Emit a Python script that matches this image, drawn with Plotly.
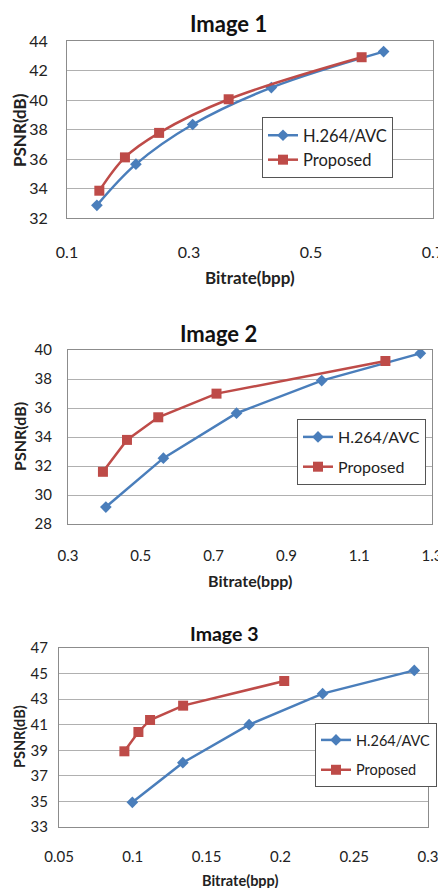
import plotly.graph_objects as go

FONT = "Lato"
BLUE = "#4A7EBB"
RED = "#BE4B48"

# ---- data ----
img1_h264_x = [0.149, 0.213, 0.306, 0.435, 0.619]
img1_h264_y = [32.86, 35.65, 38.34, 40.84, 43.28]
img1_prop_x = [0.153, 0.195, 0.251, 0.365, 0.583]
img1_prop_y = [33.85, 36.11, 37.77, 40.05, 42.90]

img2_h264_x = [0.404, 0.562, 0.763, 0.997, 1.268]
img2_h264_y = [29.17, 32.54, 35.64, 37.89, 39.77]
img2_prop_x = [0.396, 0.462, 0.548, 0.708, 1.172]
img2_prop_y = [31.60, 33.80, 35.36, 36.99, 39.24]

img3_h264_x = [0.0997, 0.1339, 0.1788, 0.2286, 0.2907]
img3_h264_y = [34.93, 38.03, 41.00, 43.43, 45.25]
img3_prop_x = [0.0943, 0.1038, 0.1117, 0.1341, 0.2026]
img3_prop_y = [38.92, 40.43, 41.37, 42.49, 44.42]

titles = ["Image 1", "Image 2", "Image 3"]
series_names = ["H.264/AVC", "Proposed"]
x_title = "Bitrate(bpp)"
y_title = "PSNR(dB)"

x_ranges = [[0.1, 0.7], [0.3, 1.3], [0.05, 0.3]]
x_dticks = [0.2, 0.2, 0.05]
y_ranges = [[32, 44], [28, 40], [33, 47]]
y_dticks = [2, 2, 2]

# page body has an 8px margin, so the figure is drawn 8px in from top/left
OFF = 8
W, H = 446 - OFF, 888 - OFF
# plot-area boxes in page pixels: (left, right, top, bottom)
boxes = [(67, 433, 41, 218), (68, 432, 350, 524), (59, 428, 648, 827)]
legend_pos = [(262, 117), (297, 419), (315, 723)]
legend_entry_w = [135, 80, 70]
legend_gap = [0, 6, 8]
title_pos = [(228, 23), (218, 333), (224, 633)]
xtitle_pos = [(250, 277), (250, 580), (240, 880)]
ytitle_pos = [(19, 130), (19, 437), (19, 737)]
tick_font = [16, 15, 15]
axis_title_font = [17, 16, 14.5]
legend_font = [16.5, 16, 14.5]
title_font = [22, 22, 19.5]
standoffs = [20, 18, 16]
y_standoffs = [15, 12, 7]


def px(x):
    return (x - OFF) / W


def py(y):
    return 1 - (y - OFF) / H


data = [
    (img1_h264_x, img1_h264_y, img1_prop_x, img1_prop_y, "spline"),
    (img2_h264_x, img2_h264_y, img2_prop_x, img2_prop_y, "linear"),
    (img3_h264_x, img3_h264_y, img3_prop_x, img3_prop_y, "linear"),
]

fig = go.Figure()
for i, (hx, hy, qx, qy, shape) in enumerate(data):
    n = "" if i == 0 else str(i + 1)
    leg = "legend" if i == 0 else f"legend{i+1}"
    fig.add_trace(go.Scatter(
        x=hx, y=hy, name=series_names[0], mode="lines+markers",
        line=dict(color=BLUE, width=2.5, shape=shape),
        marker=dict(symbol="diamond", size=9, color=BLUE),
        xaxis="x" + n, yaxis="y" + n, legend=leg, legendgroup=f"h{i}"))
    fig.add_trace(go.Scatter(
        x=qx, y=qy, name=series_names[1], mode="lines+markers",
        line=dict(color=RED, width=2.5, shape=shape),
        marker=dict(symbol="square", size=10, color=RED),
        xaxis="x" + n, yaxis="y" + n, legend=leg, legendgroup=f"p{i}"))

layout = dict(
    width=W, height=H, margin=dict(l=0, r=0, t=0, b=0, autoexpand=False),
    paper_bgcolor="white", plot_bgcolor="white",
    font=dict(family=FONT, color="#222222"),
    showlegend=True,
)
annotations = []
for i in range(3):
    n = "" if i == 0 else str(i + 1)
    l, r, t, b = boxes[i]
    layout["xaxis" + n] = dict(
        domain=[px(l), px(r)], range=x_ranges[i], dtick=x_dticks[i],
        tick0=x_ranges[i][0], anchor="y" + n, showgrid=False, zeroline=False,
        showline=True, mirror=True, linecolor="#8c8c8c", linewidth=1,
        ticks="", tickfont=dict(size=tick_font[i], family=FONT, color="#222"),
        ticklabelstandoff=standoffs[i], automargin=False,
    )
    layout["yaxis" + n] = dict(
        domain=[py(b), py(t)], range=y_ranges[i], dtick=y_dticks[i],
        tick0=y_ranges[i][0], anchor="x" + n, showgrid=True, gridcolor="#b0b0b0",
        gridwidth=1, zeroline=False,
        showline=True, mirror=True, linecolor="#8c8c8c", linewidth=1,
        ticks="", tickfont=dict(size=tick_font[i], family=FONT, color="#222"),
        ticklabelstandoff=y_standoffs[i], automargin=False,
    )
    leg = "legend" if i == 0 else f"legend{i+1}"
    lx, ly = legend_pos[i]
    layout[leg] = dict(
        x=px(lx), y=py(ly), xanchor="left", yanchor="top",
        bgcolor="white", bordercolor="#555555", borderwidth=1,
        font=dict(size=legend_font[i], family=FONT, color="#222"),
        traceorder="grouped", tracegroupgap=legend_gap[i], itemwidth=30,
        entrywidth=legend_entry_w[i],
    )
    tx, ty = title_pos[i]
    annotations.append(dict(
        text=f"<b>{titles[i]}</b>", x=px(tx), y=py(ty), xref="paper", yref="paper",
        showarrow=False, xanchor="center", yanchor="middle",
        font=dict(size=title_font[i], family=FONT, color="#111")))
    xx, xy = xtitle_pos[i]
    annotations.append(dict(
        text=f"<b>{x_title}</b>", x=px(xx), y=py(xy), xref="paper", yref="paper",
        showarrow=False, xanchor="center", yanchor="middle",
        font=dict(size=axis_title_font[i], family=FONT, color="#222")))
    yx, yy = ytitle_pos[i]
    annotations.append(dict(
        text=f"<b>{y_title}</b>", x=px(yx), y=py(yy), xref="paper", yref="paper",
        showarrow=False, xanchor="center", yanchor="middle", textangle=-90,
        font=dict(size=axis_title_font[i], family=FONT, color="#222")))
layout["annotations"] = annotations
fig.update_layout(**layout)
fig.write_html("out.html")
